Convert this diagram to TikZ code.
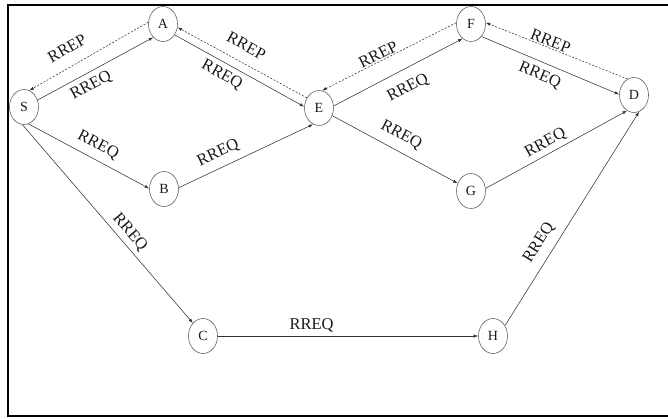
\documentclass[tikz,border=0pt]{standalone}
\usepackage{fontspec}
\setmainfont{Liberation Serif}
\usetikzlibrary{shapes.geometric,arrows.meta}
\tikzset{
  st/.style={draw=black!60, line width=0.6pt, ellipse, minimum width=29pt, minimum height=35pt, inner sep=0pt, font=\fontsize{14}{16}\selectfont, text=black!90},
  req/.style={draw=black!80, line width=0.55pt, -{Latex[length=4.5pt,width=3.2pt]}},
  rep/.style={draw=black!80, line width=0.55pt, dash pattern=on 2pt off 1.6pt, -{Latex[length=4.5pt,width=3.2pt]}},
  lbl/.style={sloped, inner sep=0pt, text height=11pt, text depth=0pt, font=\fontsize{16.5}{18}\selectfont, text=black!90},
}
\begin{document}
\begin{tikzpicture}[x=1pt,y=-1pt]
\useasboundingbox (0,0) rectangle (668,418);
\draw[line width=1.4pt] (670,5) -- (8,5) -- (8,416) -- (670,416);
\node[st] (S) at (24,107) {S};
\node[st] (A) at (163,24) {A};
\node[st] (B) at (164,189) {B};
\node[st] (E) at (319,108) {E};
\node[st] (F) at (471,24) {F};
\node[st] (G) at (471,191) {G};
\node[st] (D) at (634,95) {D};
\node[st] (C) at (203,336) {C};
\node[st] (H) at (493,336) {H};
% RREQ
\draw[req] (S.27) -- node[lbl,pos=0.41,below=5.5pt] {RREQ} (A.234);
\draw[req] (A.-43) -- node[lbl,pos=0.41,below=5pt] {RREQ} (E.175);
\draw[req] (S.-75) -- node[lbl,pos=0.52,above=10pt] {RREQ} (B.178);
\draw[req] (B.5) -- node[lbl,pos=0.34,above=10pt] {RREQ} (E.250);
\draw[req] (S.-95) -- node[lbl,pos=0.58,above=7pt] {RREQ} (C.128);
\draw[req] (C.0) -- node[lbl,pos=0.36,above=6.5pt] {RREQ} (H.180);
\draw[req] (H.41) -- node[lbl,pos=0.35,above=11pt] {RREQ} (D.-73);
\draw[req] (E.8) -- node[lbl,pos=0.51,below=11.5pt] {RREQ} (F.240);
\draw[req] (F.-50) -- node[lbl,pos=0.46,below=6pt] {RREQ} (D.178);
\draw[req] (E.-30) -- node[lbl,pos=0.49,above=11.5pt] {RREQ} (G.150);
\draw[req] (G.10) -- node[lbl,pos=0.46,above=6.5pt] {RREQ} (D.246);
% RREP
\draw[rep] (A.173) -- node[lbl,pos=0.61,above=12pt] {RREP} (S.72);
\draw[rep] (E.140) -- node[lbl,pos=0.53,above=11pt] {RREP} (A.-13);
\draw[rep] (F.175) -- node[lbl,pos=0.56,above=1pt] {RREP} (E.80);
\draw[rep] (D.112) -- node[lbl,pos=0.56,above=1pt] {RREP} (F.5);
\end{tikzpicture}
\end{document}
